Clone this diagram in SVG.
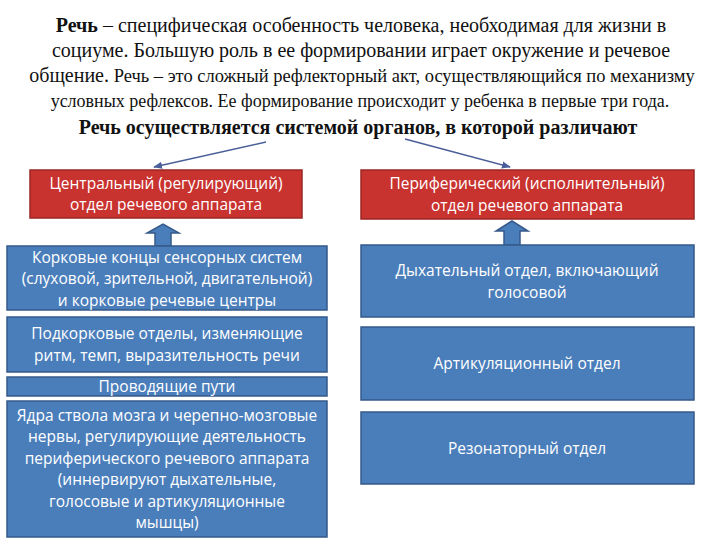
<svg xmlns="http://www.w3.org/2000/svg" width="720" height="540" viewBox="0 0 720 540">
<defs>
<style>
.t{font-family:"Liberation Serif","Times New Roman",serif;fill:#111;text-anchor:middle}
.big{font-size:20px}
.sm{font-size:18.5px}
.b{font-weight:bold}
.red{fill:#c8322f;stroke:#9a2724;stroke-width:1.5}
.blue{fill:#4a7ebb;stroke:#36598a;stroke-width:1.5}
.w{font-family:"Open Sans","Noto Sans","DejaVu Sans",sans-serif;font-size:15.5px;fill:#fff;text-anchor:middle}
.conn{stroke:#4a5f9a;stroke-width:1.5;fill:none}
</style>
<marker id="ah" viewBox="0 0 10 10" refX="9" refY="5" markerWidth="6" markerHeight="6" orient="auto">
<path d="M0,1 L10,5 L0,9 z" fill="#4a5f9a"/>
</marker>
</defs>
<rect width="720" height="540" fill="#fff"/>
<g id="intro">
<text class="t big" x="361" y="32"><tspan class="b">Речь</tspan> – специфическая особенность человека, необходимая для жизни в</text>
<text class="t big" x="361" y="57">социуме. Большую роль в ее формировании играет окружение и речевое</text>
<text class="t" x="362" y="82"><tspan class="big">общение.</tspan><tspan class="sm"> Речь – это сложный рефлекторный акт, осуществляющийся по механизму</tspan></text>
<text class="t" x="360" y="107" style="font-size:18px">условных рефлексов. Ее формирование происходит у ребенка в первые три года.</text>
<text class="t big b" x="358" y="134">Речь осуществляется системой органов, в которой различают</text>
</g>
<g id="connectors">
<line class="conn" x1="266" y1="142" x2="154" y2="167" marker-end="url(#ah)"/>
<line class="conn" x1="405" y1="139" x2="510" y2="167" marker-end="url(#ah)"/>
<path class="blue" d="M155,246 V233 H147 L163,224 L179,233 H171 V246 Z"/>
<path class="blue" d="M504,245 V231 H496 L512,221 L528,231 H520 V245 Z"/>
</g>
<g id="central">
<rect class="red" x="30" y="170" width="272" height="48"/>
<text class="w" x="166" y="189">Центральный (регулирующий)</text>
<text class="w" x="166" y="210">отдел речевого аппарата</text>
</g>
<g id="peripheral">
<rect class="red" x="361" y="170" width="333" height="49"/>
<text class="w" x="527" y="189">Периферический (исполнительный)</text>
<text class="w" x="527" y="211">отдел речевого аппарата</text>
</g>
<g id="cortical">
<rect class="blue" x="7" y="246" width="320" height="64"/>
<text class="w" x="167" y="263">Корковые концы сенсорных систем</text>
<text class="w" x="167" y="284">(слуховой, зрительной, двигательной)</text>
<text class="w" x="167" y="306">и корковые речевые центры</text>
</g>
<g id="subcortical">
<rect class="blue" x="7" y="317" width="320" height="55"/>
<text class="w" x="167" y="339">Подкорковые отделы, изменяющие</text>
<text class="w" x="167" y="361">ритм, темп, выразительность речи</text>
</g>
<g id="pathways">
<rect class="blue" x="7" y="377" width="320" height="19"/>
<text class="w" x="167" y="392">Проводящие пути</text>
</g>
<g id="nuclei">
<rect class="blue" x="7" y="401" width="320" height="136"/>
<text class="w" x="167" y="421">Ядра ствола мозга и черепно-мозговые</text>
<text class="w" x="167" y="442">нервы, регулирующие деятельность</text>
<text class="w" x="167" y="464">периферического речевого аппарата</text>
<text class="w" x="167" y="485">(иннервируют дыхательные,</text>
<text class="w" x="167" y="507">голосовые и артикуляционные</text>
<text class="w" x="167" y="528">мышцы)</text>
</g>
<g id="respiratory">
<rect class="blue" x="361" y="245" width="333" height="72"/>
<text class="w" x="527" y="276">Дыхательный отдел, включающий</text>
<text class="w" x="527" y="298">голосовой</text>
</g>
<g id="articulatory">
<rect class="blue" x="361" y="327" width="333" height="73"/>
<text class="w" x="527" y="369">Артикуляционный  отдел</text>
</g>
<g id="resonator">
<rect class="blue" x="361" y="412" width="333" height="72"/>
<text class="w" x="527" y="454">Резонаторный  отдел</text>
</g>
</svg>
